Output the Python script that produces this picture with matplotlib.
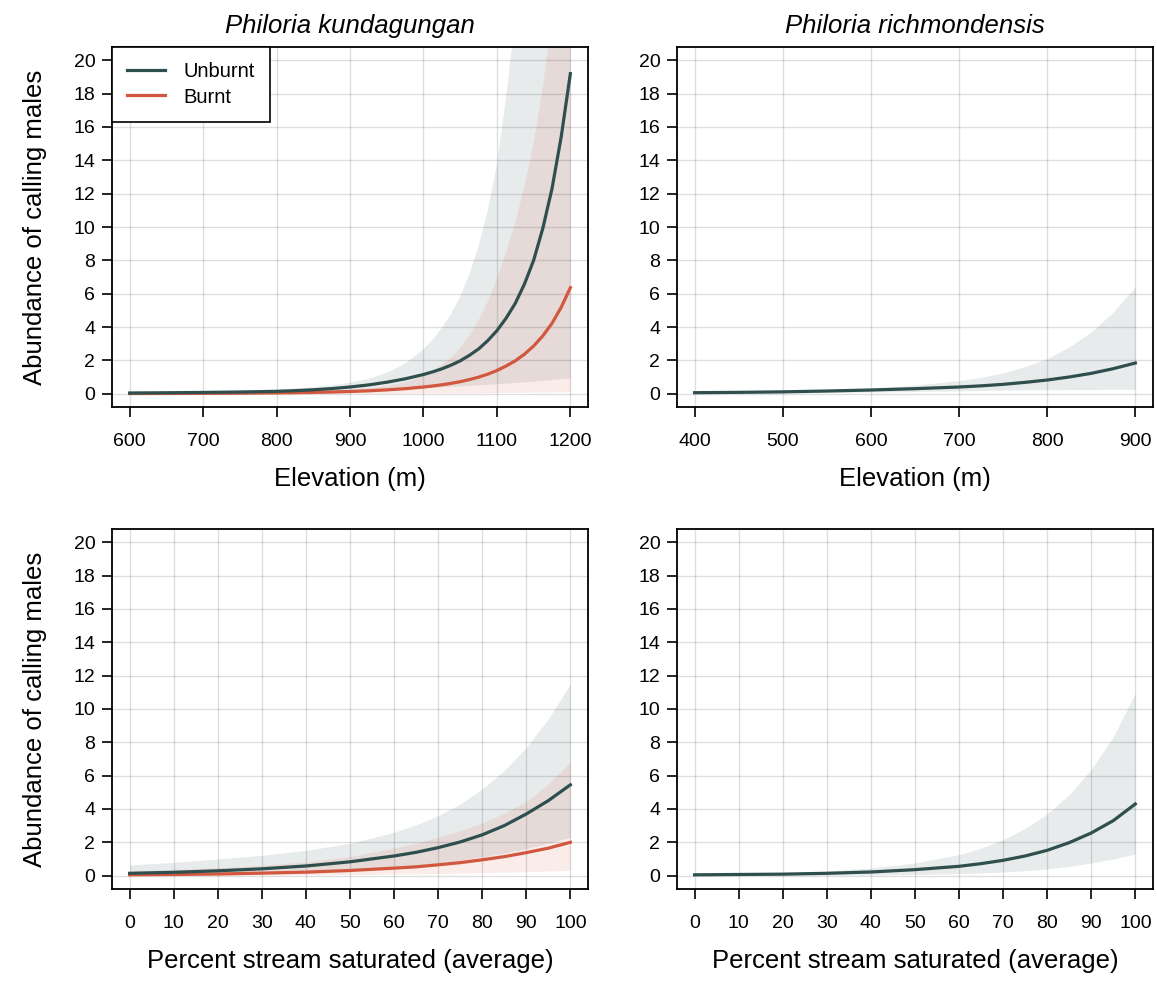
import numpy as np
import matplotlib
matplotlib.use("Agg")
import matplotlib.pyplot as plt

plt.rcParams['font.family'] = ['Liberation Sans', 'DejaVu Sans']

dark = "#2f4f4f"
red = "#d1573f"

# ---- Philoria kundagungan, elevation
el_k = [600, 650, 700, 750, 800, 825, 850, 875, 900, 925, 950, 975, 1000, 1012.5, 1025,
        1037.5, 1050, 1062.5, 1075, 1087.5, 1100, 1112.5, 1125, 1137.5, 1150, 1162.5,
        1175, 1187.5, 1200]
el_k_unb = [0.04, 0.055, 0.075, 0.10, 0.14, 0.18, 0.233, 0.305, 0.40, 0.524, 0.687, 0.89,
            1.15, 1.31, 1.49, 1.71, 1.97, 2.30, 2.68, 3.18, 3.78, 4.53, 5.42, 6.58, 8.0,
            9.92, 12.3, 15.4, 19.2]
el_k_unb_hi = [0.08, 0.1, 0.13, 0.18, 0.25, 0.31, 0.38, 0.49, 0.65, 0.887, 1.25, 1.8,
               2.66, 3.24, 3.94, 4.78, 5.81, 7.17, 8.85, 11.0, 13.7, 17.8, 22.5, 27, 34,
               42, 52, 65, 81]
el_k_unb_lo = [0.02, 0.025, 0.035, 0.05, 0.07, 0.085, 0.1, 0.13, 0.16, 0.2, 0.24, 0.29,
               0.33, 0.355, 0.38, 0.41, 0.44, 0.47, 0.5, 0.53, 0.56, 0.6, 0.64, 0.68, 0.72,
               0.77, 0.82, 0.87, 0.92]
el_k_brn = [0.01, 0.014, 0.02, 0.03, 0.047, 0.06, 0.077, 0.1, 0.131, 0.172, 0.228, 0.30,
            0.40, 0.462, 0.533, 0.619, 0.719, 0.844, 0.99, 1.17, 1.39, 1.66, 1.97, 2.37,
            2.86, 3.47, 4.22, 5.18, 6.36]
el_k_brn_hi = [0.03, 0.04, 0.06, 0.085, 0.12, 0.14, 0.17, 0.21, 0.27, 0.36, 0.5, 0.72,
               1.1, 1.39, 1.75, 2.21, 2.8, 3.55, 4.5, 5.61, 7.0, 8.6, 10.4, 12.6, 15.2,
               18.6, 23, 28, 34]
el_k_brn_lo = [0.002, 0.003, 0.005, 0.008, 0.012, 0.015, 0.018, 0.021, 0.025, 0.03, 0.035,
               0.04, 0.045, 0.047, 0.05, 0.053, 0.056, 0.059, 0.062, 0.066, 0.07, 0.074,
               0.078, 0.083, 0.088, 0.095, 0.1, 0.11, 0.12]

# ---- Philoria richmondensis, elevation
el_r = [400, 450, 500, 550, 600, 650, 700, 725, 750, 775, 800, 825, 850, 875, 900]
el_r_unb = [0.06, 0.08, 0.11, 0.16, 0.22, 0.3, 0.4, 0.47, 0.56, 0.68, 0.82, 1.0, 1.22, 1.5, 1.84]
el_r_hi = [0.1, 0.13, 0.18, 0.25, 0.35, 0.52, 0.78, 0.98, 1.25, 1.62, 2.1, 2.8, 3.7, 4.9, 6.4]
el_r_lo = [0.02, 0.03, 0.05, 0.07, 0.1, 0.13, 0.17, 0.19, 0.21, 0.23, 0.24, 0.25, 0.25, 0.26, 0.26]

# ---- percent stream saturated
sat = [0, 10, 20, 30, 40, 50, 60, 65, 70, 75, 80, 85, 90, 95, 100]
sat_k_unb = [0.14, 0.2, 0.29, 0.41, 0.58, 0.83, 1.18, 1.4, 1.68, 2.02, 2.45, 3.0, 3.7, 4.5, 5.45]
sat_k_unb_hi = [0.64, 0.8, 1.0, 1.22, 1.52, 1.94, 2.6, 3.05, 3.6, 4.3, 5.2, 6.3, 7.7, 9.4, 11.5]
sat_k_unb_lo = [0.03, 0.05, 0.08, 0.13, 0.2, 0.32, 0.5, 0.62, 0.76, 0.92, 1.12, 1.35, 1.62, 1.95, 2.3]
sat_k_brn = [0.05, 0.07, 0.1, 0.15, 0.21, 0.31, 0.45, 0.53, 0.65, 0.78, 0.95, 1.14, 1.38, 1.65, 2.0]
sat_k_brn_hi = [0.3, 0.38, 0.48, 0.62, 0.82, 1.15, 1.65, 1.95, 2.3, 2.7, 3.15, 3.75, 4.45, 5.5, 6.8]
sat_k_brn_lo = [0.01, 0.02, 0.03, 0.04, 0.05, 0.07, 0.09, 0.11, 0.13, 0.15, 0.18, 0.21, 0.24, 0.28, 0.32]

sat_r_unb = [0.05, 0.07, 0.09, 0.14, 0.22, 0.36, 0.56, 0.72, 0.92, 1.18, 1.52, 1.98, 2.56, 3.3, 4.3]
sat_r_hi = [0.1, 0.13, 0.18, 0.28, 0.46, 0.76, 1.26, 1.65, 2.16, 2.83, 3.71, 4.86, 6.37, 8.34, 10.95]
sat_r_lo = [0.02, 0.02, 0.03, 0.03, 0.04, 0.07, 0.12, 0.16, 0.22, 0.3, 0.4, 0.55, 0.76, 1.0, 1.3]

yticks = np.arange(0, 21, 2)
lw = 2.3

fig = plt.figure(figsize=(11.57, 9.81), dpi=100)
w, h = 0.4114, 0.367
ax_tl = fig.add_axes([0.0968, 0.5851, w, h])
ax_tr = fig.add_axes([0.5851, 0.5851, w, h])
ax_bl = fig.add_axes([0.0968, 0.0938, w, h])
ax_br = fig.add_axes([0.5851, 0.0938, w, h])


def style(ax, xt, xlabel, ylabel=None):
    lo, hi = xt[0], xt[-1]
    pad = 0.04 * (hi - lo)
    ax.set_xlim(lo - pad, hi + pad)
    ax.set_ylim(-0.8, 20.8)
    ax.set_xticks(xt)
    ax.set_yticks(yticks)
    ax.set_axisbelow('line')
    ax.grid(True, color='k', alpha=0.13, lw=1.0)
    for s in ax.spines.values():
        s.set_linewidth(1.3)
    ax.tick_params(direction='out', length=7, width=1.2, labelsize=14)
    ax.tick_params(axis='x', pad=12)
    ax.tick_params(axis='y', pad=5)
    ax.set_xlabel(xlabel, fontsize=18.5, labelpad=12)
    if ylabel:
        ax.set_ylabel(ylabel, fontsize=18.5, labelpad=19)


def band(ax, x, lo, hi, col):
    ax.fill_between(x, lo, hi, color=col, alpha=0.11, lw=0, zorder=1)


# top left
band(ax_tl, el_k, el_k_unb_lo, el_k_unb_hi, dark)
band(ax_tl, el_k, el_k_brn_lo, el_k_brn_hi, red)
ax_tl.plot(el_k, el_k_brn, color=red, lw=lw, zorder=2)
ax_tl.plot(el_k, el_k_unb, color=dark, lw=lw, zorder=3)
style(ax_tl, list(range(600, 1201, 100)), "Elevation (m)", "Abundance of calling males")
ax_tl.set_title("Philoria kundagungan", fontsize=18.5, style='italic', pad=10)
h1, = ax_tl.plot([], [], color=dark, lw=lw)
h2, = ax_tl.plot([], [], color=red, lw=lw)
leg = ax_tl.legend([h1, h2], ["Unburnt", "Burnt"], loc='upper left', bbox_to_anchor=(0, 1),
                   borderaxespad=0, fancybox=False, edgecolor='black', framealpha=1,
                   fontsize=14.5, handlelength=1.9, handletextpad=0.9, labelspacing=0.32,
                   borderpad=0.75)
leg.get_frame().set_linewidth(1.2)

# top right
band(ax_tr, el_r, el_r_lo, el_r_hi, dark)
ax_tr.plot(el_r, el_r_unb, color=dark, lw=lw, zorder=3)
style(ax_tr, list(range(400, 901, 100)), "Elevation (m)")
ax_tr.set_title("Philoria richmondensis", fontsize=18.5, style='italic', pad=10)

# bottom left
band(ax_bl, sat, sat_k_unb_lo, sat_k_unb_hi, dark)
band(ax_bl, sat, sat_k_brn_lo, sat_k_brn_hi, red)
ax_bl.plot(sat, sat_k_brn, color=red, lw=lw, zorder=2)
ax_bl.plot(sat, sat_k_unb, color=dark, lw=lw, zorder=3)
style(ax_bl, list(range(0, 101, 10)), "Percent stream saturated (average)",
      "Abundance of calling males")

# bottom right
band(ax_br, sat, sat_r_lo, sat_r_hi, dark)
ax_br.plot(sat, sat_r_unb, color=dark, lw=lw, zorder=3)
style(ax_br, list(range(0, 101, 10)), "Percent stream saturated (average)")

fig.savefig("out.png", dpi=100)
